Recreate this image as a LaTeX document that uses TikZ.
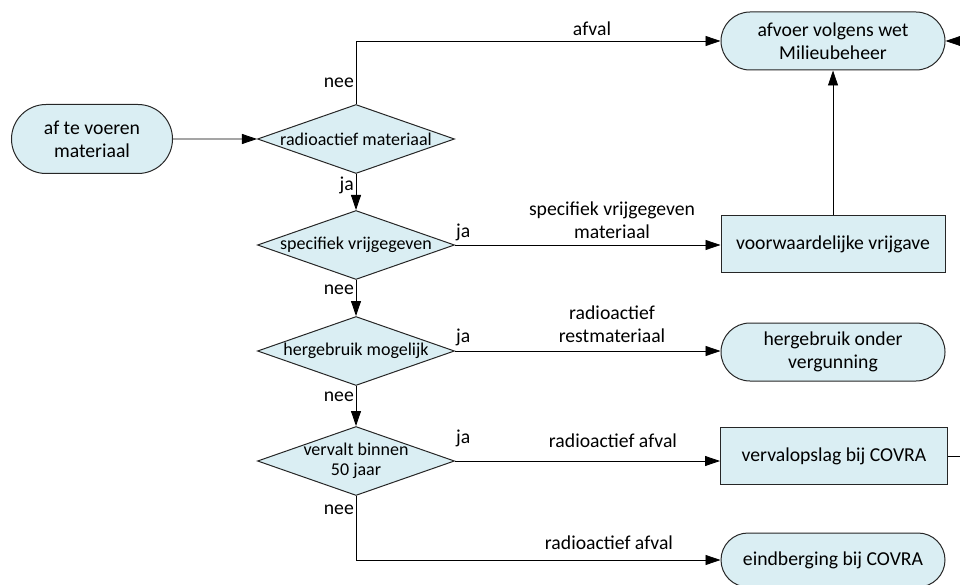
\documentclass[tikz,border=0pt]{standalone}
\usepackage{fontspec}
\setmainfont{Carlito}
\usetikzlibrary{shapes.geometric,shapes.misc,arrows.meta}
\definecolor{boxblue}{RGB}{218,238,243}
\begin{document}
\begin{tikzpicture}[x=1pt,y=-1pt,
  base/.style={draw=black!85,fill=boxblue,line width=1pt,align=center,inner sep=0pt,
    font=\fontsize{19.7}{23}\selectfont},
  terminal/.style={base,rounded rectangle,minimum width=224pt,minimum height=58pt},
  process/.style={base,rectangle,minimum width=224pt,minimum height=57pt},
  decision/.style={base,diamond,minimum width=197pt,minimum height=69pt},
  dlabel/.style={font=\fontsize{18}{20}\selectfont,align=center,inner sep=0pt},
  lbl/.style={font=\fontsize{19.7}{23}\selectfont,align=center,inner sep=0pt},
  flow/.style={line width=0.8pt,-{Triangle[length=15pt,width=10pt]}}]
  \useasboundingbox (0,0) rectangle (960,585);
  % start and decisions
  \node[terminal,minimum width=161pt,minimum height=69pt] (start) at (92,139) {af te voeren\\materiaal};
  \node[decision,label={[dlabel]center:radioactief materiaal}] (d1) at (356,139) {};
  \node[decision,label={[dlabel]center:specifiek vrijgegeven}] (d2) at (356,245) {};
  \node[decision,label={[dlabel]center:hergebruik mogelijk}] (d3) at (356,351) {};
  \node[decision,label={[dlabel]center:{vervalt binnen\\50 jaar}}] (d4) at (356,461) {};
  % end points
  \node[terminal] (afvoer) at (833,41) {afvoer volgens wet\\Milieubeheer};
  \node[process,minimum height=56pt] (vrij) at (833,244) {voorwaardelijke vrijgave};
  \node[terminal] (herg) at (833,352) {hergebruik onder\\vergunning};
  \node[process,minimum width=227pt] (verval) at (834,456) {vervalopslag bij COVRA};
  \node[terminal,minimum height=54pt] (eind) at (833,560) {eindberging bij COVRA};
  \coordinate (inR) at (962,41);
  \coordinate (outR) at (962,456);
  % connectors
  \draw[flow] (start) -- (d1);
  \draw[flow] (d1.north) |- (afvoer.west);
  \draw[flow] (d1) -- (d2);
  \draw[flow] (d2) -- (d2 -| vrij.west);
  \draw[flow] (d2) -- (d3);
  \draw[flow] (d3) -- (d3 -| herg.west);
  \draw[flow] (d3) -- (d4);
  \draw[flow] (d4) -- (d4 -| verval.west);
  \draw[flow] (d4.south) |- (eind.west);
  \draw[flow] (vrij) -- (afvoer);
  \draw[flow] (inR) -- (afvoer.east);
  \draw[line width=0.8pt] (verval.east) -- (outR);
  % labels
  \node[lbl] at (592,29) {afval};
  \node[lbl,anchor=east] at (354,83) {nee};
  \node[lbl,anchor=east] at (354,185) {ja};
  \node[lbl,anchor=west] at (456,232) {ja};
  \node[lbl] at (612,220) {specifiek vrijgegeven\\materiaal};
  \node[lbl,anchor=east] at (354,290) {nee};
  \node[lbl,anchor=west] at (456,337) {ja};
  \node[lbl] at (612,324) {radioactief\\restmateriaal};
  \node[lbl,anchor=east] at (354,397) {nee};
  \node[lbl,anchor=west] at (456,438) {ja};
  \node[lbl] at (613,441) {radioactief afval};
  \node[lbl,anchor=east] at (354,510) {nee};
  \node[lbl] at (609,543) {radioactief afval};
\end{tikzpicture}
\end{document}
